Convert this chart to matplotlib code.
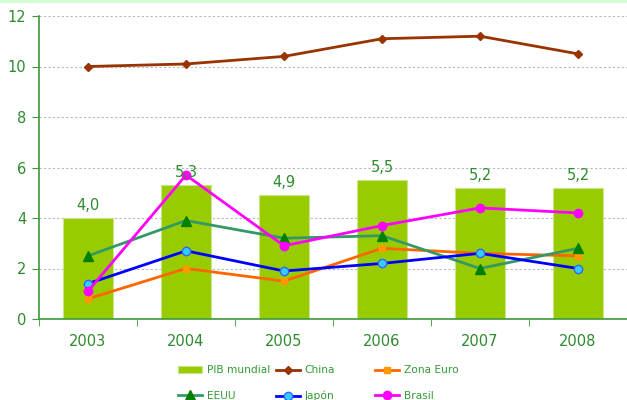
import numpy as np
import matplotlib
matplotlib.use('Agg')
import matplotlib.pyplot as plt
from matplotlib.patches import Rectangle

years = ['2003', '2004', '2005', '2006', '2007', '2008']
pib_mundial = [4.0, 5.3, 4.9, 5.5, 5.2, 5.2]
china = [10.0, 10.1, 10.4, 11.1, 11.2, 10.5]
zona_euro = [0.8, 2.0, 1.5, 2.8, 2.6, 2.5]
eeuu = [2.5, 3.9, 3.2, 3.3, 2.0, 2.8]
japon = [1.4, 2.7, 1.9, 2.2, 2.6, 2.0]
brasil = [1.1, 5.7, 2.9, 3.7, 4.4, 4.2]

txt_green = '#2e8b2e'
axis_green = '#3a9a3a'

fig = plt.figure(figsize=(6.27, 4.0), dpi=100)
# pale band along the top
fig.patches.append(Rectangle((0, 0.9925), 1, 0.0075, transform=fig.transFigure,
                             facecolor='#d4fcd4', edgecolor='none'))
ax = fig.add_axes([39 / 627, 81 / 400, 588 / 627, 303 / 400])

x = np.arange(len(years))
b = ax.bar(x, pib_mundial, width=0.51, color='#99cc00', edgecolor='#c8e68a',
           linewidth=0.8, label='PIB mundial', zorder=2)
for xi, v in zip(x, pib_mundial):
    ax.text(xi, v + 0.2, f'{v:.1f}'.replace('.', ','), ha='center', va='bottom',
            color=txt_green, fontsize=10.5, zorder=5)

l_china, = ax.plot(x, china, color='#993300', lw=2, marker='D', ms=4.5, label='China', zorder=3)
l_euro, = ax.plot(x, zona_euro, color='#ff6600', lw=2, marker='s', ms=5, mfc='#ff9900',
                  mec='#ff9900', label='Zona Euro', zorder=3)
l_eeuu, = ax.plot(x, eeuu, color='#339966', lw=2, marker='^', ms=6.5, mfc='#008000',
                  mec='#008000', label='EEUU', zorder=3)
l_jap, = ax.plot(x, japon, color='#0000ff', lw=2, marker='o', ms=6, mfc='#33ccff',
                 mec='#3366ff', label='Japón', zorder=4)
l_bra, = ax.plot(x, brasil, color='#ff00ff', lw=2, marker='o', ms=6, mfc='#ff00ff',
                 mec='#ff00ff', label='Brasil', zorder=4)

ax.set_xlim(-0.5, 5.5)
ax.set_ylim(0, 12)
ax.set_yticks([0, 2, 4, 6, 8, 10, 12])
ax.set_xticks(x)
ax.set_xticklabels(years)
ax.set_xticks(np.arange(-0.5, 6, 1), minor=True)
ax.tick_params(axis='x', which='major', length=0, pad=11, labelcolor=txt_green, labelsize=10.5)
ax.tick_params(axis='x', which='minor', length=5, color=axis_green, direction='out')
ax.tick_params(axis='y', length=5, color=axis_green, labelcolor=txt_green, labelsize=10.5, pad=4)

ax.grid(axis='y', color='#b8b8b8', linestyle=(0, (2, 2)), linewidth=0.8, zorder=0)
ax.set_axisbelow(True)
for s in ['top', 'right']:
    ax.spines[s].set_visible(False)
ax.spines['left'].set_color(axis_green)
ax.spines['bottom'].set_color(axis_green)
ax.spines['left'].set_linewidth(1.2)
ax.spines['bottom'].set_linewidth(1.2)

# legend: one column per box so the columns sit at fixed positions
columns = [([b, l_eeuu], 181), ([l_china, l_jap], 279), ([l_euro, l_bra], 378)]
for hs, px in columns:
    leg = fig.legend(hs, [h.get_label() for h in hs], loc='upper left',
                     bbox_to_anchor=(px / 627 - 0.012, 1 - 361 / 400),
                     frameon=False, fontsize=7.7, handlelength=2.3, handleheight=0.6,
                     labelspacing=1.45, handletextpad=0.4, borderaxespad=0)
    for t in leg.get_texts():
        t.set_color('#339933')

fig.savefig('out.png', dpi=100)
